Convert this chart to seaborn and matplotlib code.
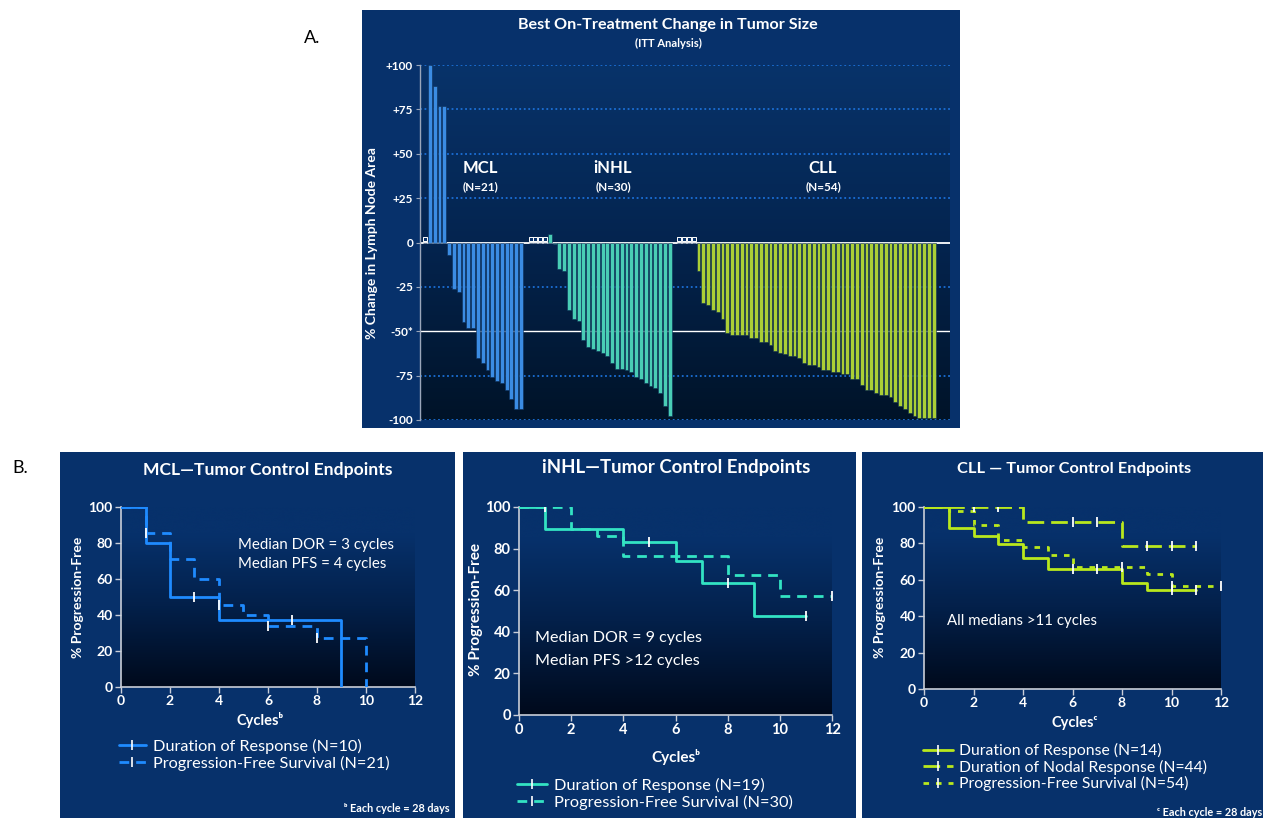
import numpy as np
import pandas as pd
import matplotlib
matplotlib.use("Agg")
import matplotlib.pyplot as plt
import seaborn as sns
from matplotlib.colors import LinearSegmentedColormap
from matplotlib.lines import Line2D
from matplotlib.patches import Rectangle

sns.set_theme(style="white")
plt.rcParams["font.family"] = ["Lato", "DejaVu Sans"]

# ---------------- data ----------------
groups = ["MCL", "iNHL", "CLL"]
group_n = [21, 30, 54]
mcl_change = [0, 100, 88, 77, 77, -7, -26, -28, -45, -48, -48, -65, -68, -72, -76,
              -78, -79, -83, -88, -94, -94]
inhl_change = [0, 0, 0, 0, 5, -1, -15, -16, -38, -43, -44, -55, -59, -60, -61, -62,
               -64, -68, -71, -71, -72, -73, -76, -77, -79, -81, -82, -85, -92, -98]
cll_change = [0, 0, 0, 0, -16, -34, -35, -38, -39, -43, -51, -52, -52, -52, -52, -54,
              -54, -56, -56, -58, -61, -62, -63, -64, -64, -65, -68, -69, -69, -70,
              -72, -72, -73, -73, -74, -74, -77, -77, -80, -83, -83, -85, -86, -86,
              -87, -90, -92, -94, -96, -98, -99, -99, -99, -99]
ytick_vals = [100, 75, 50, 25, 0, -25, -50, -75, -100]
ytick_labels = ["+100", "+75", "+50", "+25", "0", "-25", "-50*", "-75", "-100"]

# Kaplan-Meier step data (cycles, % progression-free)
mcl_dor_t = [0, 1, 2, 4, 9]
mcl_dor_s = [100, 80, 50, 37.5, 0]
mcl_dor_cens_t = [3, 7]
mcl_dor_cens_s = [50, 37.5]
mcl_pfs_t = [0, 1, 2, 3, 4, 5, 6, 8, 10]
mcl_pfs_s = [100, 85.7, 71, 60, 45.5, 40, 34, 27, 0]
mcl_pfs_cens_t = [1, 4, 6, 8]
mcl_pfs_cens_s = [85.7, 45.5, 34, 27]

inhl_dor_t = [0, 1, 4, 6, 7, 9, 11]
inhl_dor_s = [100, 89.5, 83, 74, 63.5, 47.5, 47.5]
inhl_dor_cens_t = [5, 8, 11]
inhl_dor_cens_s = [83, 63.5, 47.5]
inhl_pfs_t = [0, 2, 3, 4, 8, 10, 12]
inhl_pfs_s = [100, 89.5, 86, 76.5, 67.5, 57, 57]
inhl_pfs_cens_t = [1, 12]
inhl_pfs_cens_s = [100, 57]

cll_dor_t = [0, 1, 2, 3, 4, 5, 8, 9, 11]
cll_dor_s = [100, 88.5, 84, 79.5, 72, 66, 58.5, 54.5, 54.5]
cll_dor_cens_t = [6, 7, 10, 11]
cll_dor_cens_s = [66, 66, 54.5, 54.5]
cll_ndr_t = [0, 4, 8, 11]
cll_ndr_s = [100, 91.5, 78.5, 78.5]
cll_ndr_cens_t = [2, 3, 6, 7, 9, 10, 11]
cll_ndr_cens_s = [100, 100, 91.5, 91.5, 78.5, 78.5, 78.5]
cll_pfs_t = [0, 1, 2, 3, 4, 5, 6, 9, 10, 12]
cll_pfs_s = [100, 98, 90, 82, 78, 73.5, 67, 63, 56.5, 56.5]
cll_pfs_cens_t = [8, 10, 12]
cll_pfs_cens_s = [67, 56.5, 56.5]

# ---------------- style ----------------
W, H = 1264, 818
NAVY = "#07316b"
C_MCL = "#1f8bff"
C_INHL = "#33e3c3"
C_CLL = "#b9e81d"


def fx(px):
    return px / W


def fy(py):
    return 1 - py / H


def box(x0, y0, x1, y1):
    return [fx(x0), fy(y1), fx(x1) - fx(x0), fy(y0) - fy(y1)]


def gradient(ax, colors, stops):
    cmap = LinearSegmentedColormap.from_list("g", list(zip(stops, colors)))
    grad = np.linspace(0, 1, 256).reshape(-1, 1)
    ax.imshow(grad, extent=[0, 1, 0, 1], transform=ax.transAxes, origin="lower",
              cmap=cmap, aspect="auto", zorder=0, interpolation="bicubic")


fig = plt.figure(figsize=(W / 100, H / 100), dpi=100)
fig.patch.set_facecolor("white")

# panel backgrounds
for (x0, y0, x1, y1) in [(362, 10, 960, 428), (60, 452, 455, 818),
                         (463, 452, 856, 818), (862, 452, 1263, 818)]:
    fig.add_artist(Rectangle((fx(x0), fy(y1)), fx(x1) - fx(x0), fy(y0) - fy(y1),
                             transform=fig.transFigure, facecolor=NAVY,
                             edgecolor="none", zorder=0))

fig.text(fx(312), fy(38), "A.", fontsize=13, color="black", ha="center", va="center")
fig.text(fx(20), fy(468), "B.", fontsize=13, color="black", ha="center", va="center")

# ---------------- A: waterfall ----------------
offsets = [0, 22, 53]
rows = []
for g, vals, off in zip(groups, [mcl_change, inhl_change, cll_change], offsets):
    for i, v in enumerate(vals):
        rows.append({"group": g, "pos": off + i, "change": v})
df = pd.DataFrame(rows)

axA = fig.add_axes(box(420, 65, 950, 420))
axA.set_facecolor("none")
gradient(axA, ["#001328", "#04244f", "#08336a"], [0, 0.5, 1])
for v in [100, 75, 50, 25, -25, -75, -100]:
    axA.axhline(v, color="#1b6fd6", lw=1.3, ls=(0, (1, 1.5)), zorder=1)
axA.axhline(0, color="white", lw=1.3, zorder=1)
axA.axhline(-50, color="white", lw=1.0, zorder=1)
sns.barplot(data=df, x="pos", y="change", hue="group", native_scale=True,
            dodge=False, width=0.8, palette=[C_MCL, C_INHL, C_CLL],
            edgecolor="#0b2c55", linewidth=0.4, legend=False, ax=axA, zorder=2)
zeros = df[df["change"] == 0]
sns.scatterplot(x=zeros["pos"], y=zeros["change"] + 1.8, marker="s", s=7,
                facecolor=NAVY, edgecolor="white", linewidth=0.7, ax=axA, zorder=3)
axA.set_xlim(-1.05, 109.4)
axA.set_ylim(-100, 100)
axA.set_yticks(ytick_vals)
axA.set_yticklabels(ytick_labels, fontsize=8.5, fontweight="bold", color="white")
axA.set_xticks([])
axA.set_xlabel("")
axA.set_ylabel("")
for s in ["top", "right", "bottom"]:
    axA.spines[s].set_visible(False)
axA.spines["left"].set_color("#9aa6ba")
axA.spines["left"].set_linewidth(1.0)
axA.tick_params(axis="y", left=True, length=3, width=0.8, color="#9aa6ba", pad=2)

fig.text(fx(372), fy(243), "% Change in Lymph Node Area", rotation=90, fontsize=10,
         fontweight="bold", color="white", ha="center", va="center")
fig.text(fx(668), fy(25), "Best On-Treatment Change in Tumor Size", fontsize=11.6,
         fontweight="bold", color="white", ha="center", va="center")
fig.text(fx(668), fy(43), "(ITT Analysis)", fontsize=8, fontweight="bold",
         color="white", ha="center", va="center")
for g, n, cx in zip(groups, group_n, [480, 613, 823]):
    fig.text(fx(cx), fy(168), g, fontsize=12, fontweight="bold", color="white",
             ha="center", va="center")
    fig.text(fx(cx), fy(187), f"(N={n})", fontsize=8.5, fontweight="bold",
             color="white", ha="center", va="center")


# ---------------- B: KM panels ----------------
def km_axes(rect, labelsize=10):
    ax = fig.add_axes(rect)
    ax.set_facecolor("none")
    gradient(ax, ["#000a1c", "#03204a", NAVY, NAVY], [0, 0.45, 0.85, 1])
    ax.set_xlim(0, 12)
    ax.set_ylim(0, 100)
    ax.set_xticks(range(0, 13, 2))
    ax.set_yticks(range(0, 101, 20))
    for s in ["top", "right"]:
        ax.spines[s].set_visible(False)
    for s in ["left", "bottom"]:
        ax.spines[s].set_color("#c9ced8")
        ax.spines[s].set_linewidth(1.2)
    ax.tick_params(axis="both", direction="out", length=4, width=1, color="#c9ced8",
                   labelcolor="white", labelsize=labelsize, pad=2, bottom=True,
                   left=True)
    for lab in ax.get_xticklabels() + ax.get_yticklabels():
        lab.set_fontweight("bold")
    ax.set_xlabel("")
    ax.set_ylabel("")
    return ax


def km_line(ax, t, s, ct, cs, color, ls, lw=2.0):
    sns.lineplot(x=t, y=s, drawstyle="steps-post", estimator=None, sort=False,
                 color=color, linestyle=ls, linewidth=lw, ax=ax, zorder=3)
    sns.scatterplot(x=ct, y=cs, marker="|", s=45, color="white", linewidth=1.3,
                    ax=ax, zorder=4)


def handle(color, ls):
    return Line2D([0], [0], color=color, linestyle=ls, lw=2.0, marker="|",
                  markersize=7, markeredgecolor="white", markeredgewidth=1.2)


DASH = (0, (3.5, 2.5))
LDASH = (0, (6, 2.5))
SDASH = (0, (2, 2.5))
TXT = dict(color="white")
LEG = dict(loc="upper left", bbox_transform=fig.transFigure, frameon=False,
           numpoints=1, labelspacing=0.1, borderpad=0, borderaxespad=0,
           labelcolor="white")

# MCL
ax1 = km_axes(box(121, 507, 415, 687))
km_line(ax1, mcl_dor_t, mcl_dor_s, mcl_dor_cens_t, mcl_dor_cens_s, C_MCL, "-")
km_line(ax1, mcl_pfs_t, mcl_pfs_s, mcl_pfs_cens_t, mcl_pfs_cens_s, C_MCL, DASH)
ax1.set_xlim(0, 12)
ax1.set_ylim(0, 100)
fig.text(fx(268), fy(470), "MCL\u2014Tumor Control Endpoints", fontsize=12.6,
         fontweight="bold", ha="center", va="center", **TXT)
fig.text(fx(78), fy(597), "% Progression-Free", rotation=90, fontsize=10,
         fontweight="bold", ha="center", va="center", **TXT)
fig.text(fx(260), fy(720), "Cycles\u1d47", fontsize=10.5, fontweight="bold",
         ha="center", va="center", **TXT)
fig.text(fx(238), fy(545), "Median DOR = 3 cycles", fontsize=10.8, ha="left",
         va="center", **TXT)
fig.text(fx(238), fy(564), "Median PFS = 4 cycles", fontsize=10.8, ha="left",
         va="center", **TXT)
fig.text(fx(450), fy(808), "\u1d47 Each cycle = 28 days", fontsize=7.8,
         fontweight="bold", ha="right", va="center", **TXT)
ax1.legend([handle(C_MCL, "-"), handle(C_MCL, DASH)],
           ["Duration of Response (N=10)", "Progression-Free Survival (N=21)"],
           bbox_to_anchor=(fx(119), fy(739)), fontsize=11.7, handlelength=1.65,
           handletextpad=0.45, **LEG)

# iNHL
ax2 = km_axes(box(519, 507, 832, 715), labelsize=10.5)
km_line(ax2, inhl_dor_t, inhl_dor_s, inhl_dor_cens_t, inhl_dor_cens_s, C_INHL, "-")
km_line(ax2, inhl_pfs_t, inhl_pfs_s, inhl_pfs_cens_t, inhl_pfs_cens_s, C_INHL, DASH)
ax2.set_xlim(0, 12)
ax2.set_ylim(0, 100)
fig.text(fx(676), fy(467), "iNHL\u2014Tumor Control Endpoints", fontsize=13.4,
         fontweight="bold", ha="center", va="center", **TXT)
fig.text(fx(476), fy(610), "% Progression-Free", rotation=90, fontsize=11,
         fontweight="bold", ha="center", va="center", **TXT)
fig.text(fx(676), fy(757), "Cycles\u1d47", fontsize=11, fontweight="bold",
         ha="center", va="center", **TXT)
fig.text(fx(535), fy(638), "Median DOR = 9 cycles", fontsize=11.6, ha="left",
         va="center", **TXT)
fig.text(fx(535), fy(661), "Median PFS >12 cycles", fontsize=11.6, ha="left",
         va="center", **TXT)
ax2.legend([handle(C_INHL, "-"), handle(C_INHL, DASH)],
           ["Duration of Response (N=19)", "Progression-Free Survival (N=30)"],
           bbox_to_anchor=(fx(517), fy(778)), fontsize=11.8, handlelength=1.85,
           handletextpad=0.4, **LEG)

# CLL
ax3 = km_axes(box(924, 507, 1221, 689))
km_line(ax3, cll_dor_t, cll_dor_s, cll_dor_cens_t, cll_dor_cens_s, C_CLL, "-")
km_line(ax3, cll_ndr_t, cll_ndr_s, cll_ndr_cens_t, cll_ndr_cens_s, C_CLL, LDASH)
km_line(ax3, cll_pfs_t, cll_pfs_s, cll_pfs_cens_t, cll_pfs_cens_s, C_CLL, SDASH)
ax3.set_xlim(0, 12)
ax3.set_ylim(0, 100)
fig.text(fx(1074), fy(469), "CLL \u2014 Tumor Control Endpoints", fontsize=11.8,
         fontweight="bold", ha="center", va="center", **TXT)
fig.text(fx(880), fy(597), "% Progression-Free", rotation=90, fontsize=10,
         fontweight="bold", ha="center", va="center", **TXT)
fig.text(fx(1075), fy(723), "Cycles\u1d9c", fontsize=10.5, fontweight="bold",
         ha="center", va="center", **TXT)
fig.text(fx(947), fy(621), "All medians >11 cycles", fontsize=10.8, ha="left",
         va="center", **TXT)
fig.text(fx(1262), fy(812), "\u1d9c Each cycle = 28 days", fontsize=7.8,
         fontweight="bold", ha="right", va="center", **TXT)
ax3.legend([handle(C_CLL, "-"), handle(C_CLL, LDASH), handle(C_CLL, SDASH)],
           ["Duration of Response (N=14)", "Duration of Nodal Response (N=44)",
            "Progression-Free Survival (N=54)"],
           bbox_to_anchor=(fx(923), fy(743)), fontsize=11.3, handlelength=1.9,
           handletextpad=0.4, **LEG)

fig.savefig("out.png", dpi=100, facecolor="white")
